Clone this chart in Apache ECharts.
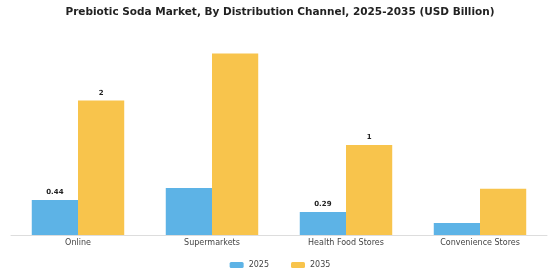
<!DOCTYPE html>
<html><head><meta charset="utf-8">
<script src="https://cdn.jsdelivr.net/npm/echarts@6/dist/echarts.min.js"></script>
<style>html,body{margin:0;padding:0;background:#fff}#c{width:560px;height:280px}</style>
</head><body><div id="c"></div>
<script>
var categories = ["Online", "Supermarkets", "Health Food Stores", "Convenience Stores"];
var values2025 = [0.44, 0.59, 0.29, 0.15];
var values2035 = [1.69, 2.28, 1.13, 0.58];
var labels2025 = ["0.44", "", "0.29", ""];
var labels2035 = ["2", "", "1", ""];
var seriesNames = ["2025", "2035"];

var chart = echarts.init(document.getElementById('c'), null, {renderer: 'canvas'});
function lbl(arr) {
  return {show: true, position: 'top', distance: 4, fontSize: 7, fontWeight: 'bold', color: '#222',
    fontFamily: 'DejaVu Sans', formatter: function (p) { return arr[p.dataIndex]; }};
}
chart.setOption({
  animation: false,
  title: {text: 'Prebiotic Soda Market, By Distribution Channel, 2025-2035 (USD Billion)', left: 'center', top: 2,
    textStyle: {fontSize: 10.5, fontWeight: 'bold', color: '#222', fontFamily: 'DejaVu Sans'}},
  legend: {bottom: 6, left: 'center', itemWidth: 14, itemHeight: 6, itemGap: 22,
    textStyle: {fontSize: 8, color: '#444', fontFamily: 'DejaVu Sans'}, data: seriesNames},
  grid: {left: 11, right: 13, top: 40, bottom: 45},
  xAxis: {type: 'category', data: categories,
    axisLine: {lineStyle: {color: '#ddd'}},
    axisTick: {alignWithLabel: true, length: 4, lineStyle: {color: '#bbb'}},
    axisLabel: {fontSize: 8, color: '#444', margin: 4, fontFamily: 'DejaVu Sans'}},
  yAxis: {type: 'value', min: 0, max: 2.45, show: false, splitLine: {show: false}},
  series: [
    {name: seriesNames[0], type: 'bar', data: values2025, barGap: '0%', barCategoryGap: '31%',
      itemStyle: {color: '#5DB3E6'}, label: lbl(labels2025)},
    {name: seriesNames[1], type: 'bar', data: values2035, barGap: '0%', barCategoryGap: '31%',
      itemStyle: {color: '#F8C44C'}, label: lbl(labels2035)}
  ]
});
</script></body></html>
